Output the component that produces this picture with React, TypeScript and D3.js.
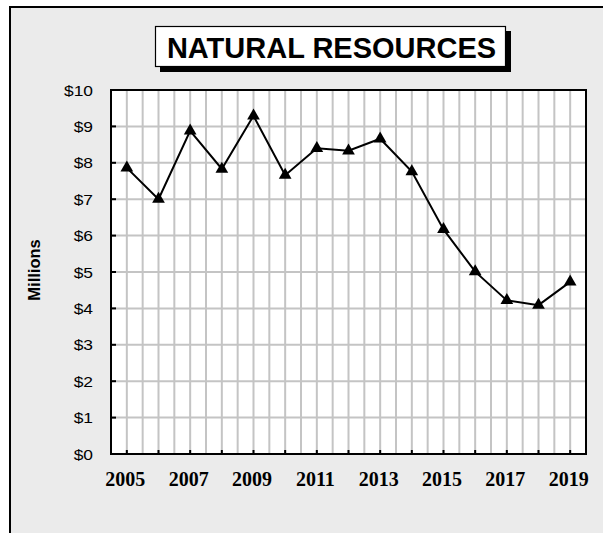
import React from "react";
import * as d3 from "d3";

const years = [2005, 2006, 2007, 2008, 2009, 2010, 2011, 2012, 2013, 2014, 2015, 2016, 2017, 2018, 2019];
const values = [7.86, 7.0, 8.88, 7.83, 9.29, 7.66, 8.4, 8.33, 8.66, 7.76, 6.17, 5.01, 4.22, 4.09, 4.73];
const yTicks = [0, 1, 2, 3, 4, 5, 6, 7, 8, 9, 10];
const xLabelYears = [2005, 2007, 2009, 2011, 2013, 2015, 2017, 2019];
const title = "NATURAL RESOURCES";
const yTitle = "Millions";

const W = 603;
const H = 533;
const plotL = 111;
const plotR = 586;
const plotT = 90;
const plotB = 454;

export default function App() {
  const x = d3.scaleLinear().domain([2004.5, 2019.5]).range([plotL, plotR]);
  const y = d3.scaleLinear().domain([0, 10]).range([plotB, plotT]);
  const line = d3
    .line<number>()
    .x((_, i) => x(years[i]))
    .y((d) => y(d));
  const halfSteps = d3.range(2004.5, 2019.5, 0.5).filter((v) => v > 2004.5);
  const tri = d3.symbol().type(d3.symbolTriangle).size(70)();

  return (
    <svg
      width={W}
      height={H}
      style={{ position: "absolute", left: 0, top: 0, display: "block" }}
    >
      <rect x={0} y={0} width={W} height={H} fill="#ffffff" />
      <rect x={10} y={7} width={W + 20} height={H + 20} fill="#ebebeb" stroke="#000" strokeWidth={2} />

      {/* title box */}
      <rect x={160} y={31} width={351} height={41} fill="#000" />
      <rect x={155.5} y={26.5} width={350} height={40} fill="#fff" stroke="#000" strokeWidth={1.2} />
      <text
        x={331.5}
        y={57.5}
        textAnchor="middle"
        fontFamily="Liberation Sans, Arial, sans-serif"
        fontWeight="bold"
        fontSize={29}
        fill="#000"
      >
        {title}
      </text>

      {/* plot area */}
      <rect x={plotL} y={plotT} width={plotR - plotL} height={plotB - plotT} fill="#fff" />
      {halfSteps.map((v) => (
        <line key={"v" + v} x1={x(v)} x2={x(v)} y1={plotT} y2={plotB} stroke="#c4c4c4" strokeWidth={2} />
      ))}
      {yTicks.slice(1, -1).map((t) => (
        <line key={"h" + t} x1={plotL} x2={plotR} y1={y(t)} y2={y(t)} stroke="#c4c4c4" strokeWidth={2} />
      ))}
      {yTicks.map((t) => (
        <line key={"yt" + t} x1={plotL} x2={plotL + 5} y1={y(t)} y2={y(t)} stroke="#000" strokeWidth={2} />
      ))}
      {years.map((yr) => (
        <line key={"xt" + yr} x1={x(yr)} x2={x(yr)} y1={plotB} y2={plotB - 4} stroke="#000" strokeWidth={2} />
      ))}
      <rect x={plotL} y={plotT} width={plotR - plotL} height={plotB - plotT} fill="none" stroke="#000" strokeWidth={2} />

      {/* y labels */}
      {yTicks.map((t) => (
        <text
          key={"yl" + t}
          transform={`translate(93, ${y(t) + 5.5}) scale(1.16, 1)`}
          textAnchor="end"
          fontFamily="Liberation Sans, Arial, sans-serif"
          fontSize={15}
          fill="#000"
        >
          {"$" + t}
        </text>
      ))}
      <text
        transform={`translate(40, 270) rotate(-90)`}
        textAnchor="middle"
        fontFamily="Liberation Sans, Arial, sans-serif"
        fontWeight="bold"
        fontSize={16.5}
        fill="#000"
      >
        {yTitle}
      </text>

      {/* x labels */}
      {xLabelYears.map((yr) => (
        <text
          key={"xl" + yr}
          x={x(yr) - 1.5}
          y={486}
          textAnchor="middle"
          fontFamily="Liberation Serif, Times New Roman, serif"
          fontWeight="bold"
          fontSize={20}
          fill="#000"
        >
          {yr}
        </text>
      ))}

      {/* series */}
      <path d={line(values) || ""} fill="none" stroke="#000" strokeWidth={2} />
      {values.map((v, i) => (
        <path key={"m" + i} d={tri || ""} transform={`translate(${x(years[i])}, ${y(v)})`} fill="#000" />
      ))}
    </svg>
  );
}
